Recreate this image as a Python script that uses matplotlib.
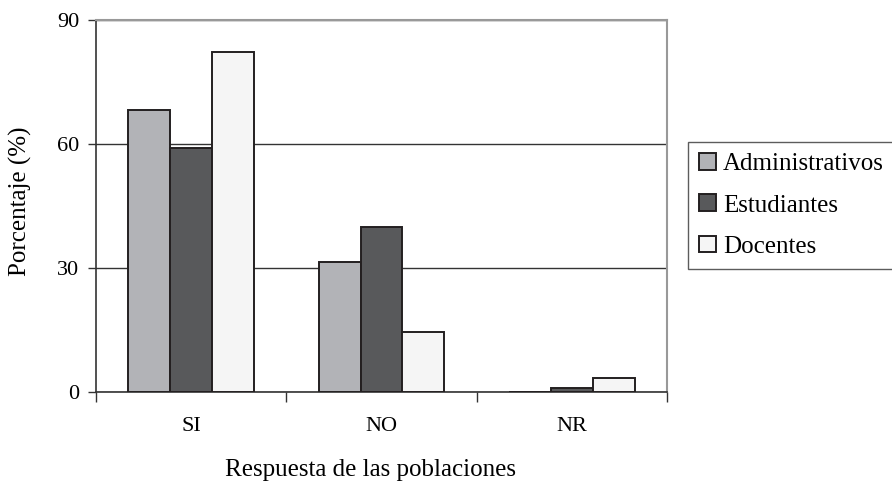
import matplotlib.pyplot as plt
import numpy as np

categories = ['SI', 'NO', 'NR']
series_names = ['Administrativos', 'Estudiantes', 'Docentes']
administrativos = [68.2, 31.4, 0.0]
estudiantes = [59.0, 40.0, 0.9]
docentes = [82.2, 14.4, 3.3]
colors = ['#b2b3b7', '#58595b', '#f5f5f5']
yticks = [0, 30, 60, 90]

plt.rcParams['font.family'] = ['Liberation Serif', 'DejaVu Serif']

fig = plt.figure(figsize=(8.92, 4.83), dpi=100)
ax = fig.add_axes([0.1076, 0.1884, 0.6402, 0.7702])

x = np.arange(len(categories))
w = 0.22
for i, (vals, name) in enumerate(zip([administrativos, estudiantes, docentes], series_names)):
    ax.bar(x + (i - 1) * w, vals, w, color=colors[i], edgecolor='#231f20',
           linewidth=1.4, label=name, zorder=3)

ax.set_xlim(-0.5, 2.5)
ax.set_ylim(0, 90)
ax.set_yticks(yticks)
ax.set_yticklabels([str(t) for t in yticks], fontsize=16)
ax.grid(axis='y', color='#333333', linewidth=1.0, zorder=0)

ax.set_xticks([-0.5, 0.5, 1.5, 2.5])
ax.set_xticklabels([])
ax.set_xticks(x, minor=True)
ax.set_xticklabels(categories, minor=True, fontsize=16)
ax.tick_params(axis='x', which='minor', length=0, pad=18)
ax.tick_params(axis='x', which='major', length=7, width=1, color='#333333', direction='out')
ax.tick_params(axis='y', length=6, width=1, color='#333333', pad=6)

for s in ['left', 'bottom']:
    ax.spines[s].set_color('#333333')
    ax.spines[s].set_linewidth(1.2)
for s in ['top', 'right']:
    ax.spines[s].set_color('#999999')
    ax.spines[s].set_linewidth(1.5)

ax.set_xlabel('Respuesta de las poblaciones', fontsize=18)
ax.xaxis.set_label_coords(0.48, -0.18)
ax.set_ylabel('Porcentaje (%)', fontsize=18)
ax.yaxis.set_label_coords(-0.112, 0.513)

leg = fig.legend(loc='center left', bbox_to_anchor=(0.771, 0.5745), fontsize=18,
                 handlelength=0.65, handleheight=0.65, handletextpad=0.3,
                 labelspacing=0.76, frameon=True, fancybox=False, borderpad=0.47,
                 borderaxespad=0)
leg.get_frame().set_edgecolor('#333333')
leg.get_frame().set_linewidth(1.0)

fig.savefig('out.png', dpi=100)
